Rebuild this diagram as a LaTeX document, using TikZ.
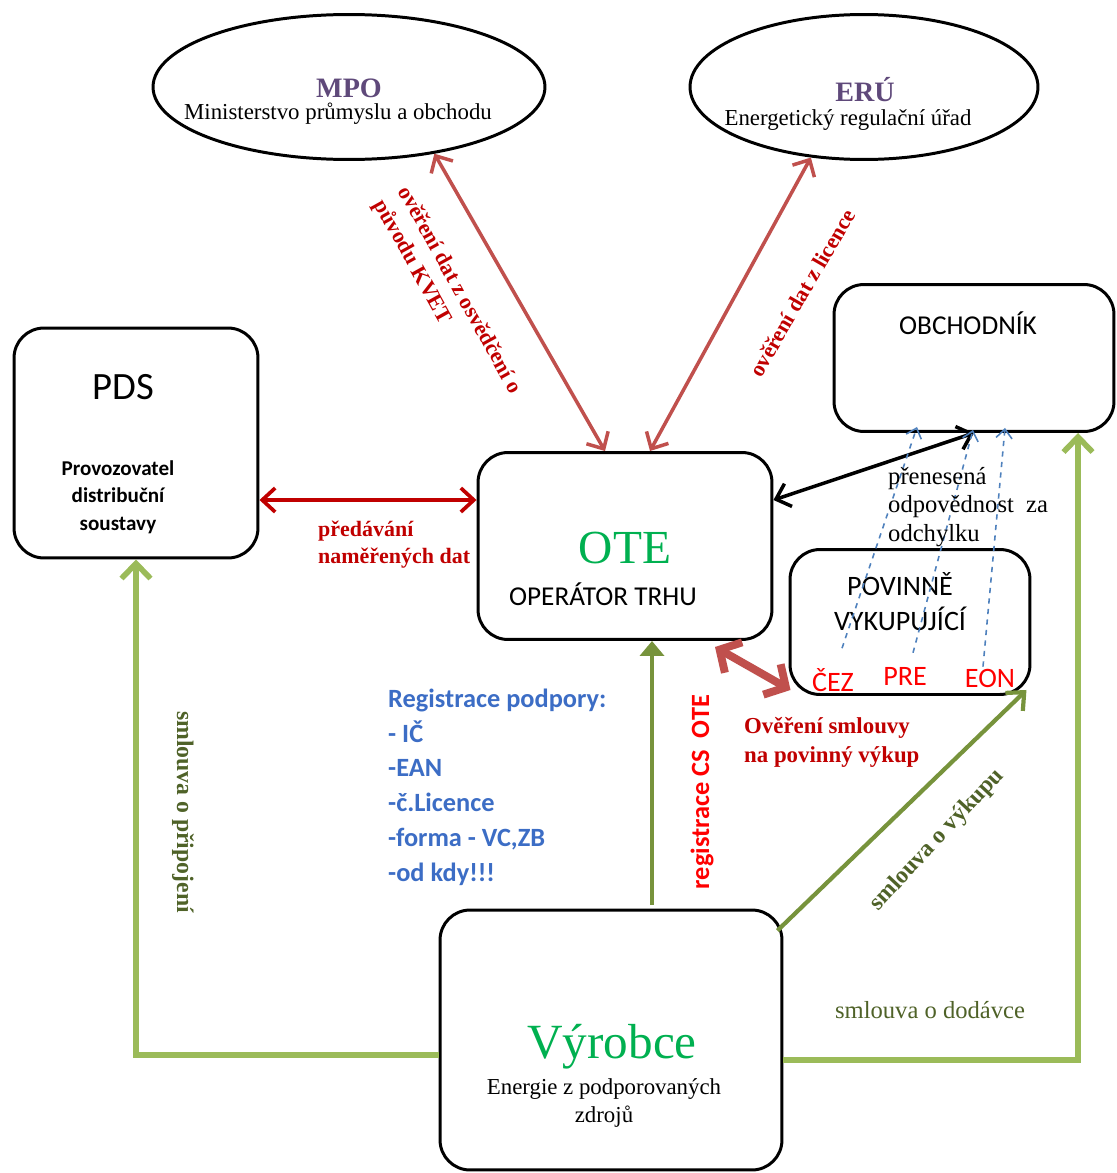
\documentclass[tikz,border=0pt]{standalone}
\usepackage{fontspec}
\setmainfont{Liberation Serif}
\newfontfamily\calibri{Carlito}
\usetikzlibrary{arrows.meta, positioning, calc, shapes.geometric}
\definecolor{linkRed}{HTML}{C0504D}
\definecolor{dataRed}{HTML}{C00000}
\definecolor{linkGreen}{HTML}{9BBB59}
\definecolor{linkGreenDk}{HTML}{77933C}
\definecolor{oliveTxt}{HTML}{4F6228}
\definecolor{regBlue}{HTML}{3C6DC5}
\definecolor{dashBlue}{HTML}{4F81BD}
\definecolor{orgPurple}{HTML}{5F497A}
\definecolor{vyrGreen}{HTML}{00B050}

\begin{document}
\begin{tikzpicture}[x=0.02cm, y=-0.02cm,
  org/.style={ellipse, draw, line width=1.7pt, inner sep=0pt},
  entity/.style={draw, rounded corners=0.6cm, line width=1.7pt, inner sep=0pt},
  serifLbl/.style={font=\fontsize{13}{15.5}\selectfont, align=center},
  redLbl/.style={font=\bfseries\fontsize{12.5}{15.5}\selectfont, text=dataRed, align=left},
  greenLbl/.style={font=\bfseries\fontsize{13.5}{16}\selectfont, text=oliveTxt},
  vrLink/.style={{Straight Barb[length=2.6mm,width=5mm]}-{Straight Barb[length=2.6mm,width=5mm]}, line width=2pt, draw=linkRed},
  dataLink/.style={{Straight Barb[length=2.6mm,width=4.8mm]}-{Straight Barb[length=2.6mm,width=4.8mm]}, line width=2.1pt, draw=dataRed},
  tradeLink/.style={{Straight Barb[length=2.6mm,width=4.8mm]}-{Straight Barb[length=2.6mm,width=4.8mm]}, line width=2pt, draw=black},
  buyLink/.style={{Straight Barb[length=3.2mm,width=7mm]}-{Straight Barb[length=3.2mm,width=7mm]}, line width=4.5pt, draw=linkRed},
  contract/.style={-{Straight Barb[length=3mm,width=5.8mm]}, line width=3.2pt, draw=linkGreen},
  contractDk/.style={-{Triangle[length=3mm,width=4.8mm]}, line width=2.4pt, draw=linkGreenDk},
  shifted/.style={-{Straight Barb[length=1.8mm,width=3.2mm]}, line width=0.9pt, draw=dashBlue, dashed}
]
\useasboundingbox (0,0) rectangle (1116,1173);

% regulators
\node[org, minimum width=7.84cm, minimum height=2.9cm] (mpo) at (349,87) {};
\node[org, minimum width=6.96cm, minimum height=2.9cm] (eru) at (864,87) {};
\node[font=\bfseries\fontsize{16}{18}\selectfont, text=orgPurple] (mpoT) at (349,88) {MPO};
\node[serifLbl] (mpoS) at (338,114) {Ministerstvo průmyslu a obchodu};
\node[font=\bfseries\fontsize{16}{18}\selectfont, text=orgPurple] (eruT) at (865,90) {ERÚ};
\node[serifLbl] (eruS) at (848,120) {Energetický regulační úřad};

% market participants
\node[entity, minimum width=4.88cm, minimum height=4.6cm] (pds) at (136,443) {};
\node[entity, minimum width=5.88cm, minimum height=3.74cm] (ote) at (625,546) {};
\node[entity, minimum width=5.6cm, minimum height=2.94cm] (obch) at (974,358) {};
\node[entity, minimum width=4.8cm, minimum height=2.9cm] (pov) at (910,622) {};
\node[entity, minimum width=6.84cm, minimum height=5.2cm] (vyr) at (611,1040) {};

\node[font=\calibri\fontsize{22}{26}\selectfont] (pdsT) at (123,387) {PDS};
\node[font=\calibri\bfseries\fontsize{12}{15.6}\selectfont, align=center] (pdsS) at (118,497) {Provozovatel\\distribuční\\soustavy};
\node[font=\fontsize{27}{30}\selectfont, text=vyrGreen] (oteT) at (625,548) {OTE};
\node[font=\calibri\fontsize{15.5}{18}\selectfont] (oteS) at (603,594) {OPERÁTOR TRHU};
\node[font=\calibri\fontsize{15.5}{18}\selectfont] (obchT) at (968,323) {OBCHODNÍK};
\node[font=\calibri\fontsize{16}{20}\selectfont, align=center] (povT) at (900,602) {POVINNĚ\\VYKUPUJÍCÍ};
\node[font=\calibri\fontsize{16}{18}\selectfont, text=red] (cez) at (833,680) {ČEZ};
\node[font=\calibri\fontsize{16}{18}\selectfont, text=red] (pre) at (905,676) {PRE};
\node[font=\calibri\fontsize{16}{18}\selectfont, text=red] (eon) at (990,678) {EON};
\node[font=\fontsize{28}{30}\selectfont, text=vyrGreen] (vyrT) at (612,1047) {Výrobce};
\node[serifLbl] (vyrS) at (604,1103) {Energie z podporovaných\\zdrojů};

% links between OTE and the others
\draw[vrLink] (mpo.-38) -- ($(ote.north)+(-20,0)$);
\draw[vrLink] (eru.-127) -- ($(ote.north)+(25,0)$);
\draw[dataLink] ($(pds.east)+(0,57)$) coordinate (pdsOut) -- (pdsOut -| ote.west);
\draw[tradeLink] ($(ote.east)+(0,-46)$) -- (obch.south);
\draw[buyLink] ($(ote.south)+(90,6)$) -- ($(pov.south west)+(2,-6)$);

% contracts of the producer
\draw[contractDk] ($(vyr.north)+(41,-4)$) -- ($(ote.south)+(27,0)$);
\draw[contract] ($(vyr.west)+(0,15)$) -| (pds.south);
\draw[contract] ($(vyr.east)+(0,20)$) -| ($(obch.south)+(104,0)$);
\draw[contractDk, -{Straight Barb[length=2.8mm,width=5mm]}] ($(vyr.north east)+(-6,22)$) -- ($(pov.south east)+(-5,-6)$);

% transferred responsibility
\draw[shifted] ($(cez.north)+(9,-14)$) -- ($(obch.south)+(-57,-6)$);
\draw[shifted] ($(pre.north)+(8,-8)$) -- ($(obch.south)+(-1,-3)$);
\draw[shifted] ($(eon.north)+(-7,4)$) -- ($(obch.south)+(31,-5)$);

% labels
\node[redLbl, rotate=-61] (kvetLbl) at (447,297) {ověření dat z osvědčení o\\původu KVET};
\node[redLbl, rotate=60] (licLbl) at (802,293) {ověření dat z licence};
\node[redLbl, anchor=west] (dataLbl) at (312,545) {předávání\\naměřených dat};
\node[font=\fontsize{14}{16.4}\selectfont, anchor=west, align=left] (respLbl) at (882,507) {přenesená\\odpovědnost\ \ za\\odchylku};
\node[font=\calibri\bfseries\fontsize{15}{19.8}\selectfont, text=regBlue, anchor=west, align=left] (regLbl) at (382,787) {Registrace podpory:\\- IČ\\-EAN\\-č.Licence\\-forma - VC,ZB\\-od kdy!!!};
\node[font=\calibri\bfseries\fontsize{15}{18}\selectfont, text=red, rotate=90] (csLbl) at (702,792) {registrace CS\ \ OTE};
\node[redLbl, font=\bfseries\fontsize{13}{16.5}\selectfont, anchor=west] (buyLbl) at (738,742) {Ověření smlouvy\\na povinný výkup};
\node[greenLbl, rotate=47] (vykLbl) at (937,840) {smlouva o výkupu};
\node[greenLbl, rotate=-90] (conLbl) at (183,812) {smlouva o připojení};
\node[font=\fontsize{14}{16}\selectfont, text=oliveTxt] (dodLbl) at (930,1010) {smlouva o dodávce};
\end{tikzpicture}
\end{document}
